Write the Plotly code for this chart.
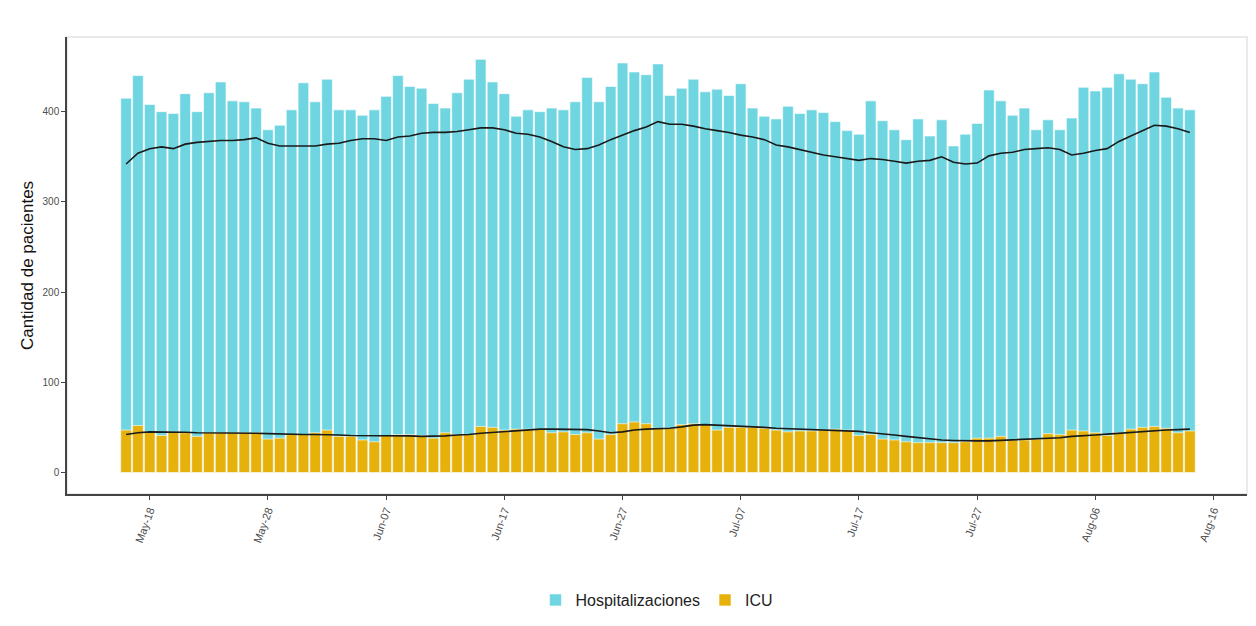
import pandas as pd
import plotly.graph_objects as go

# ---- data ----
fecha_inicio = "2022-05-16"
fecha_fin = "2022-08-14"
fechas = pd.date_range(fecha_inicio, fecha_fin, freq="D")

hospitalizaciones = [
    415, 440, 408, 400, 398, 420, 400, 421, 433, 412,
    411, 404, 380, 385, 402, 432, 411, 436, 402, 402,
    396, 402, 417, 440, 428, 426, 409, 404, 421, 436,
    458, 433, 420, 395, 402, 400, 404, 402, 411, 438,
    411, 428, 454, 444, 441, 453, 418, 426, 436, 422,
    425, 418, 431, 404, 395, 392, 406, 398, 402, 399,
    389, 379, 375, 412, 390, 380, 369, 392, 373, 391,
    362, 375, 387, 424, 412, 396, 404, 380, 391, 380,
    393, 427, 423, 427, 442, 436, 431, 444, 416, 404,
    402,
]

icu = [
    47, 52, 45, 41, 45, 44, 40, 44, 44, 44,
    44, 44, 37, 38, 42, 42, 44, 47, 40, 40,
    36, 34, 41, 42, 42, 41, 38, 44, 42, 42,
    51, 50, 47, 48, 48, 48, 44, 45, 42, 44,
    37, 42, 54, 56, 54, 49, 49, 53, 54, 53,
    47, 50, 50, 50, 49, 47, 45, 46, 46, 47,
    48, 47, 41, 42, 37, 36, 34, 33, 33, 33,
    33, 34, 38, 38, 40, 36, 36, 37, 43, 42,
    47, 46, 44, 41, 44, 48, 50, 51, 49, 44,
    46,
]

hosp_promedio = [
    342, 354, 359, 361, 359, 364, 366, 367, 368, 368,
    369, 371, 365, 362, 362, 362, 362, 364, 365, 368,
    370, 370, 368, 372, 373, 376, 377, 377, 378, 380,
    382, 382, 380, 376, 375, 372, 367, 361, 358, 359,
    363, 369, 374, 379, 383, 389, 386, 386, 384, 381,
    379, 377, 374, 372, 369, 363, 361, 358, 355, 352,
    350, 348, 346, 348, 347, 345, 343, 345, 346, 350,
    344, 342, 343, 351, 354, 355, 358, 359, 360, 358,
    352, 354, 357, 359, 367, 373, 379, 385, 384, 381,
    377,
]

icu_promedio = [
    42, 44, 45, 45, 45, 44.5, 44, 44, 43.5, 43.5,
    43.5, 43.5, 43, 42.5, 42, 42, 42, 42, 41.5, 41,
    41, 41, 41, 40.5, 40.5, 40, 40, 40.5, 41.5, 42,
    43.5, 44.5, 45.5, 46.5, 47.5, 48, 48, 48, 48, 47.5,
    46, 44, 45, 47, 48, 48.5, 49, 50.5, 52.5, 53,
    52.5, 51.5, 51, 50.5, 50, 49, 48.5, 48, 47.5, 47.3,
    47, 46.5, 45.5, 44, 43, 41.5, 40, 38.5, 37, 36,
    35.5, 35, 35, 35, 35.5, 36, 36.5, 37, 37.5, 38.5,
    40, 40.5, 41.5, 42.5, 43.5, 44.5, 45.5, 46.5, 47, 47.5,
    48,
]

y_ticks = [0, 100, 200, 300, 400]

# ---- figure ----
COL_HOSP = "#6FD6E1"
COL_ICU = "#E6B10A"
FONT = "Liberation Sans, Arial, sans-serif"

fig = go.Figure()
fig.add_trace(go.Bar(
    x=fechas, y=hospitalizaciones, name="Hospitalizaciones",
    marker=dict(color=COL_HOSP, line=dict(color="rgba(255,255,255,0.6)", width=1)),
))
fig.add_trace(go.Bar(
    x=fechas, y=icu, name="ICU",
    marker=dict(color=COL_ICU, line=dict(color="rgba(255,255,255,0.6)", width=1)),
))
fig.add_trace(go.Scatter(
    x=fechas, y=hosp_promedio, mode="lines", showlegend=False,
    line=dict(color="#1a1a1a", width=1.6),
))
fig.add_trace(go.Scatter(
    x=fechas, y=icu_promedio, mode="lines", showlegend=False,
    line=dict(color="#1a1a1a", width=1.6),
))

fig.update_layout(
    width=1240, height=610,
    barmode="overlay", bargap=0.1,
    plot_bgcolor="white", paper_bgcolor="white",
    margin=dict(l=59, r=1, t=29, b=124),
    font=dict(family=FONT, color="#333333"),
    legend=dict(
        orientation="h", x=0.5, xanchor="center", y=-0.232, yanchor="middle",
        font=dict(size=16, color="#222222"), traceorder="normal", itemwidth=30,
    ),
    xaxis=dict(
        range=["2022-05-11 00:00", "2022-08-18 20:00"],
        tick0="2022-05-18", dtick=10 * 86400000, tickformat="%b-%d",
        tickangle=-70, ticks="outside", ticklen=4, tickcolor="#444444",
        tickfont=dict(size=11, color="#4d4d4d"),
        showline=True, linecolor="#444444", linewidth=1.5,
        showgrid=False, zeroline=False,
    ),
    yaxis=dict(
        range=[-23.9, 482.8], tickvals=y_ticks,
        ticks="outside", ticklen=4, tickcolor="#444444",
        tickfont=dict(size=10, color="#4d4d4d"),
        showline=True, linecolor="#444444", linewidth=1.5,
        showgrid=False, zeroline=False,
        title=dict(text="Cantidad de pacientes", font=dict(size=17, color="#111111"), standoff=5),
    ),
    shapes=[dict(
        type="rect", xref="paper", yref="paper", x0=0, x1=1, y0=0, y1=1,
        line=dict(color="#e3e3e3", width=1.5), layer="below",
    )],
)

fig.write_html("out.html")
